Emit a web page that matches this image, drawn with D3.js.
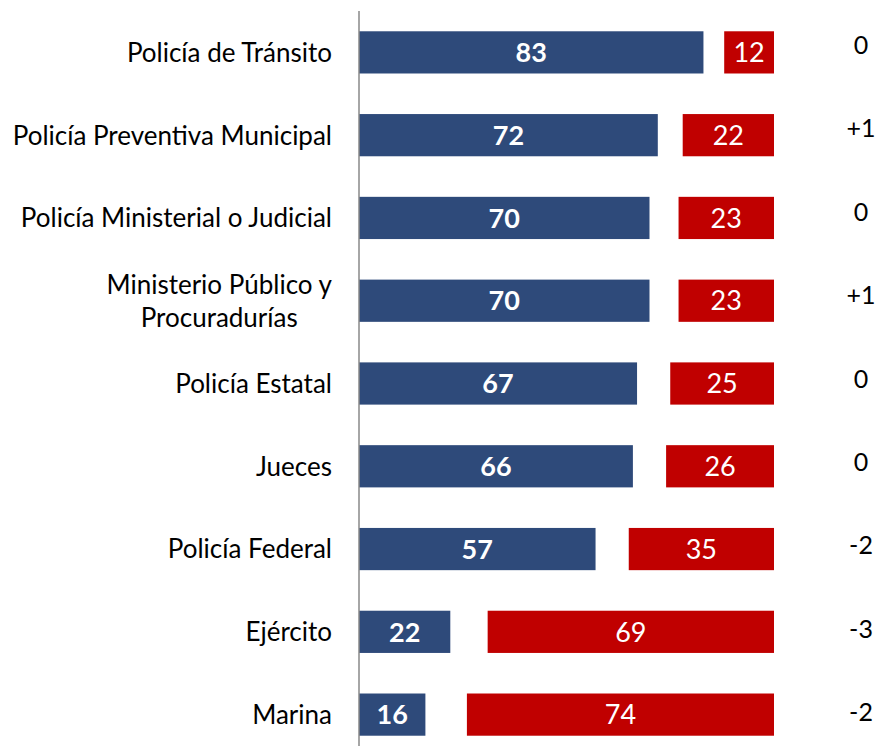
<!DOCTYPE html>
<html><head><meta charset="utf-8">
<script src="https://cdn.jsdelivr.net/npm/d3@7"></script>
<style>body{margin:0;background:#fff;}</style>
</head><body>
<script>
const categories = ["Policía de Tránsito","Policía Preventiva Municipal","Policía Ministerial o Judicial","Ministerio Público y\nProcuradurías","Policía Estatal","Jueces","Policía Federal","Ejército","Marina"];
const blueValues = [83,72,70,70,67,66,57,22,16];
const redValues = [12,22,23,23,25,26,35,69,74];
const changeLabels = ["0","+1","0","+1","0","0","-2","-3","-2"];

const W = 895, H = 746;
const svg = d3.select("body").append("svg").attr("width", W).attr("height", H);
const x = d3.scaleLinear().domain([0,100]).range([359,774]);
const y = d3.scaleBand().domain(categories).range([11,756]).paddingInner(0.49).paddingOuter(0.245);
const yc = d3.scalePoint().domain(categories).range([45,712]);

const blue = "#2E4A7A", red = "#C00000";
const rows = svg.selectAll("g.row").data(categories).join("g").attr("class","row");

rows.append("rect").attr("x", x(0)).attr("y", d=>y(d))
  .attr("width", (d,i)=>x(blueValues[i])-x(0)).attr("height", y.bandwidth()).attr("fill", blue);
rows.append("rect").attr("x", (d,i)=>x(100-redValues[i])).attr("y", d=>y(d))
  .attr("width", (d,i)=>x(100)-x(100-redValues[i])).attr("height", y.bandwidth()).attr("fill", red);

const font = "Lato, 'Open Sans', sans-serif";
rows.append("text").attr("x", (d,i)=>(x(0)+x(blueValues[i]))/2).attr("y", d=>y(d)+y.bandwidth()/2)
  .attr("dy","0.36em").attr("text-anchor","middle").attr("fill","#fff")
  .attr("font-family", font).attr("font-weight","bold").attr("font-size", 27)
  .text((d,i)=>blueValues[i]);
rows.append("text").attr("x", (d,i)=>(x(100-redValues[i])+x(100))/2).attr("y", d=>y(d)+y.bandwidth()/2)
  .attr("dy","0.36em").attr("text-anchor","middle").attr("fill","#fff")
  .attr("font-family", font).attr("font-size", 27)
  .text((d,i)=>redValues[i]);

// category labels
rows.each(function(d){
  const lines = d.split("\n");
  const t = d3.select(this).append("text").attr("text-anchor","middle")
    .attr("font-family", font).attr("font-size", 26).attr("fill","#000");
  const cy = y(d)+y.bandwidth()/2;
  const lh = 33;
  if (lines.length === 1) {
    t.attr("text-anchor","end").append("tspan").attr("x", 332).attr("y", cy).attr("dy","0.36em").text(lines[0]);
  } else {
    const tmp = [];
    lines.forEach((l,j)=>{
      tmp.push(t.append("tspan").attr("y", cy + (j-(lines.length-1)/2)*lh).attr("dy","0.36em").text(l));
    });
    const widths = tmp.map(s=>s.node().getComputedTextLength());
    const maxW = Math.max(...widths);
    tmp.forEach(s=>s.attr("x", 332 - maxW/2));
  }
});

// change labels
rows.append("text").attr("x", 861).attr("y", d=>yc(d))
  .attr("dy","0.36em").attr("text-anchor","middle").attr("fill","#000")
  .attr("font-family", font).attr("font-size", 25)
  .text((d,i)=>changeLabels[i]);

// axis line
svg.append("line").attr("x1",359).attr("x2",359).attr("y1",11).attr("y2",H)
  .attr("stroke","#888").attr("stroke-width",1.5);
</script>
</body></html>
